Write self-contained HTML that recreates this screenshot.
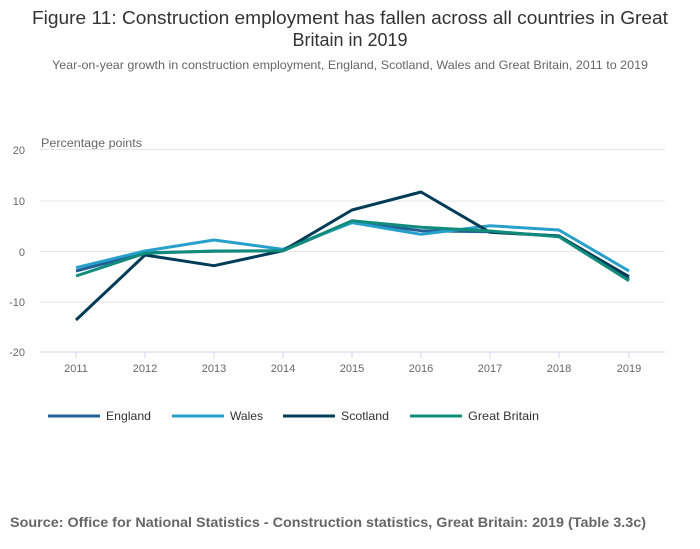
<!DOCTYPE html>
<html><head><meta charset="utf-8"><style>
body{margin:0;width:700px;height:549px;background:#fff;font-family:"Liberation Sans","DejaVu Sans",sans-serif;overflow:hidden}
svg{position:absolute;left:0;top:0}
</style></head><body>
<svg width="700" height="549" viewBox="0 0 700 549" font-family="Liberation Sans, DejaVu Sans, sans-serif">
<text x="32" y="24" font-size="18" fill="#333" textLength="636" lengthAdjust="spacingAndGlyphs">Figure 11: Construction employment has fallen across all countries in Great</text>
<text x="350" y="46" text-anchor="middle" font-size="18" fill="#333">Britain in 2019</text>
<text x="52" y="69" font-size="12" fill="#666" textLength="596" lengthAdjust="spacingAndGlyphs">Year-on-year growth in construction employment, England, Scotland, Wales and Great Britain, 2011 to 2019</text>
<text x="41" y="147" font-size="11.5" fill="#666" textLength="101" lengthAdjust="spacingAndGlyphs">Percentage points</text>
<g stroke="#e6e6e6" stroke-width="1">
<line x1="40" x2="665" y1="149.5" y2="149.5"/><line x1="40" x2="665" y1="201" y2="201"/><line x1="40" x2="665" y1="251.5" y2="251.5"/><line x1="40" x2="665" y1="302" y2="302"/>
</g>
<line x1="40" x2="665" y1="352" y2="352" stroke="#ccd6eb"/>
<g stroke="#ccd6eb">
<line x1="76" x2="76" y1="352" y2="358"/><line x1="145" x2="145" y1="352" y2="358"/><line x1="214" x2="214" y1="352" y2="358"/><line x1="283" x2="283" y1="352" y2="358"/><line x1="352" x2="352" y1="352" y2="358"/><line x1="421" x2="421" y1="352" y2="358"/><line x1="490" x2="490" y1="352" y2="358"/><line x1="559" x2="559" y1="352" y2="358"/><line x1="629" x2="629" y1="352" y2="358"/>
</g>
<g font-size="11" fill="#666" text-anchor="end">
<text x="25" y="154">20</text><text x="25" y="205">10</text><text x="25" y="256">0</text><text x="25" y="306">-10</text><text x="25" y="356">-20</text>
</g>
<g font-size="11" fill="#666" text-anchor="middle">
<text x="76" y="372">2011</text><text x="145" y="372">2012</text><text x="214" y="372">2013</text><text x="283" y="372">2014</text><text x="352" y="372">2015</text><text x="421" y="372">2016</text><text x="490" y="372">2017</text><text x="559" y="372">2018</text><text x="629" y="372">2019</text>
</g>
<g fill="none" stroke-width="3" stroke-linejoin="round">
<polyline stroke="#206095" points="76,271 145,252.7 214,251.3 283,250.7 352,221.7 421,230.7 490,231.7 559,236 629,279"/>
<polyline stroke="#27a0cc" points="76,267.7 145,251 214,240 283,249.3 352,222.7 421,234.3 490,225.7 559,230 629,271"/>
<polyline stroke="#003c57" points="76,320 145,255 214,265.7 283,250.7 352,210 421,192 490,232.3 559,236 629,276.7"/>
<polyline stroke="#118c7b" points="76,276 145,253.3 214,251 283,250.7 352,220.7 421,227.3 490,231 559,236.7 629,280.7"/>
</g>
<g stroke-width="3">
<line x1="48" x2="100" y1="416" y2="416" stroke="#206095"/>
<line x1="172" x2="224" y1="416" y2="416" stroke="#27a0cc"/>
<line x1="283" x2="335" y1="416" y2="416" stroke="#003c57"/>
<line x1="410" x2="462" y1="416" y2="416" stroke="#118c7b"/>
</g>
<g font-size="12" fill="#333">
<text x="106" y="420" textLength="45" lengthAdjust="spacingAndGlyphs">England</text><text x="230" y="420" textLength="33" lengthAdjust="spacingAndGlyphs">Wales</text><text x="341" y="420" textLength="48" lengthAdjust="spacingAndGlyphs">Scotland</text><text x="468" y="420" textLength="71" lengthAdjust="spacingAndGlyphs">Great Britain</text>
</g>
<text x="10" y="527" font-size="13.5" font-weight="bold" fill="#666" textLength="636" lengthAdjust="spacingAndGlyphs">Source: Office for National Statistics - Construction statistics, Great Britain: 2019 (Table 3.3c)</text>
</svg>
</body></html>
